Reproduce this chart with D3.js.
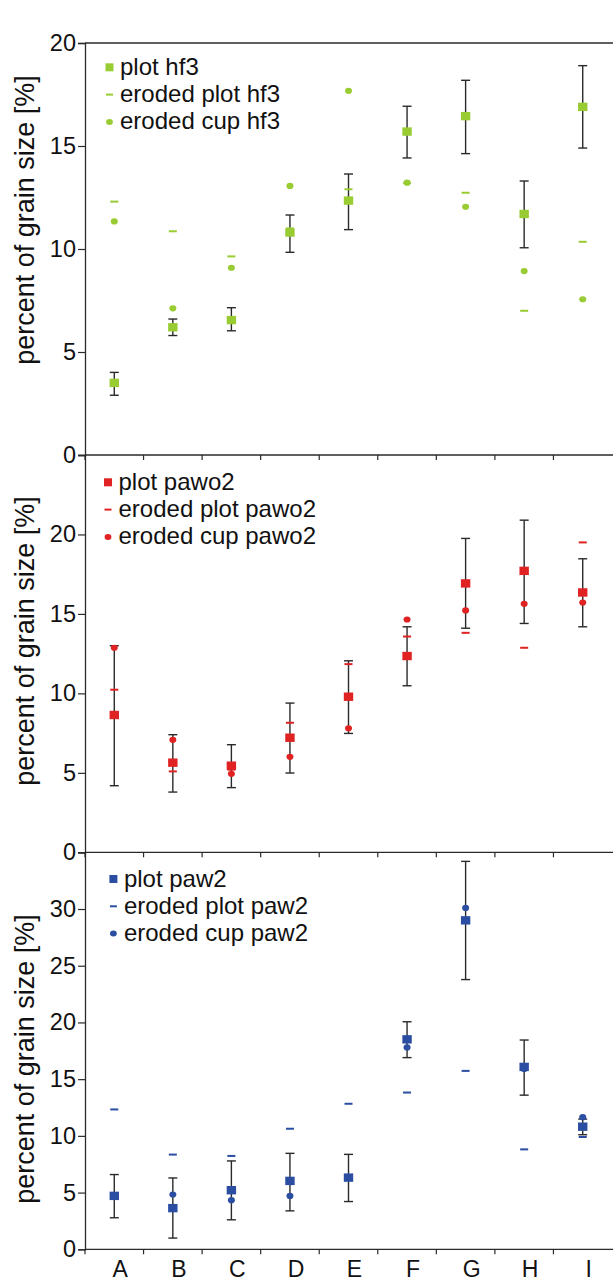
<!DOCTYPE html>
<html><head><meta charset="utf-8">
<script src="https://cdn.jsdelivr.net/npm/d3@7/dist/d3.min.js"></script>
<style>body{margin:0;background:#fff}svg{display:block}text{font-family:"Liberation Sans",Arial,sans-serif;fill:#111}</style>
</head><body>
<script>
const categories = ["A","B","C","D","E","F","G","H","I"];

// panel 1: hf3
const hf3Plot       = [3.5, 6.2, 6.55, 10.8, 12.35, 15.7, 16.45, 11.7, 16.9];
const hf3Low        = [2.9, 5.8, 6.03, 9.84, 10.94, 14.42, 14.63, 10.06, 14.9];
const hf3High       = [4.01, 6.6, 7.15, 11.65, 13.64, 16.93, 18.19, 13.3, 18.9];
const hf3ErodedPlot = [12.3, 10.86, 9.64, 11.0, 12.9, 13.2, 12.73, 7.0, 10.35];
const hf3ErodedCup  = [11.34, 7.12, 9.09, 13.06, 17.68, 13.22, 12.05, 8.93, 7.56];
const hf3Ticks = [0, 5, 10, 15, 20];

// panel 2: pawo2
const pawo2Plot       = [8.64, 5.64, 5.45, 7.21, 9.79, 12.35, 16.92, 17.71, 16.35];
const pawo2Low        = [4.19, 3.79, 4.07, 4.99, 7.48, 10.48, 14.1, 14.4, 14.19];
const pawo2High       = [13.0, 7.4, 6.77, 9.39, 12.05, 14.19, 19.75, 20.9, 18.47];
const pawo2ErodedPlot = [10.23, 5.09, 5.2, 8.15, 11.84, 13.58, 13.81, 12.87, 19.5];
const pawo2ErodedCup  = [12.87, 7.08, 4.94, 6.01, 7.8, 14.65, 15.22, 15.64, 15.72];
const pawo2Ticks = [0, 5, 10, 15, 20];

// panel 3: paw2
const paw2Plot       = [4.71, 3.63, 5.21, 6.03, 6.32, 18.51, 29.0, 16.08, 10.81];
const paw2Low        = [2.78, 0.99, 2.6, 3.39, 4.21, 16.9, 23.78, 13.59, 10.1];
const paw2High       = [6.59, 6.29, 7.79, 8.46, 8.37, 20.06, 34.2, 18.45, 11.48];
const paw2ErodedPlot = [12.33, 8.35, 8.23, 10.63, 12.83, 13.82, 15.73, 8.81, 9.9];
const paw2ErodedCup  = [4.8, 4.83, 4.33, 4.71, 6.3, 17.8, 30.1, 15.9, 11.65];
const paw2Ticks = [0, 5, 10, 15, 20, 25, 30];

const W = 613, H = 1281;
const svg = d3.select("body").append("svg").attr("width", W).attr("height", H);
const axisColor = "#2a2a2a";
const X0 = 85;
const x = d3.scaleBand().domain(categories).range([X0, 612]);
const FONT = '"Liberation Sans",Arial,sans-serif';

const panels = [
  {name:"hf3", color:"#99cc33", plot:hf3Plot, low:hf3Low, high:hf3High, ep:hf3ErodedPlot, ec:hf3ErodedCup,
   ticks:hf3Ticks, domain:[0,20], range:[455,43], labelY:220, legX:109.5, legY:67.3},
  {name:"pawo2", color:"#e02222", plot:pawo2Plot, low:pawo2Low, high:pawo2High, ep:pawo2ErodedPlot, ec:pawo2ErodedCup,
   ticks:pawo2Ticks, domain:[0,25], range:[852.3,455], labelY:641, legX:108, legY:482.3},
  {name:"paw2", color:"#2b4ea2", plot:paw2Plot, low:paw2Low, high:paw2High, ep:paw2ErodedPlot, ec:paw2ErodedCup,
   ticks:paw2Ticks, domain:[0,35], range:[1249.3,852.3], labelY:1059, legX:113.4, legY:879}
];

panels.forEach((p, pi) => {
  const y = d3.scaleLinear().domain(p.domain).range(p.range);
  const g = svg.append("g");
  const cx = d => x(d) + x.bandwidth()/2;

  if (pi === 0) {
    g.append("line").attr("x1", X0).attr("x2", W).attr("y1", y(p.domain[1])).attr("y2", y(p.domain[1]))
      .attr("stroke", axisColor).attr("stroke-width", 1.3);
  }
  const xAxis = d3.axisBottom(x).tickSize(0).tickFormat(pi === 2 ? (d => d) : "");
  const xa = g.append("g").attr("transform", `translate(0,${y(0)})`).call(xAxis);
  xa.select(".domain").remove();
  xa.selectAll("text").attr("dy", null).attr("y", 28).attr("dx", 6)
    .style("font-size", "23px").style("font-family", FONT).attr("fill", "#111");
  g.append("line").attr("x1", X0).attr("x2", W).attr("y1", y(0)).attr("y2", y(0))
    .attr("stroke", axisColor).attr("stroke-width", 1.3);
  g.selectAll(".bt").data(categories).join("line")
    .attr("x1", d => x(d)).attr("x2", d => x(d)).attr("y1", y(0)).attr("y2", y(0) + 5)
    .attr("stroke", axisColor).attr("stroke-width", 1.2);

  const yAxis = d3.axisLeft(y).tickValues(p.ticks).tickSize(7).tickPadding(2);
  const ya = g.append("g").attr("transform", `translate(${X0},0)`).call(yAxis);
  ya.select(".domain").attr("stroke", axisColor).attr("stroke-width", 1.3);
  ya.selectAll(".tick line").attr("stroke", axisColor).attr("stroke-width", 1.2);
  ya.selectAll(".tick text").style("font-size", "23.5px").style("font-family", FONT).attr("fill", "#111");

  g.append("text").attr("transform", `translate(34,${p.labelY}) rotate(-90)`)
    .attr("text-anchor", "middle").style("font-size", "27px").text("percent of grain size [%]");

  const eb = g.selectAll(".eb").data(categories).join("g");
  eb.append("line").attr("x1", cx).attr("x2", cx)
    .attr("y1", (d,i) => y(p.low[i])).attr("y2", (d,i) => y(p.high[i]))
    .attr("stroke", axisColor).attr("stroke-width", 1.4);
  eb.append("line").attr("x1", d => cx(d) - 4.5).attr("x2", d => cx(d) + 4.5)
    .attr("y1", (d,i) => y(p.low[i])).attr("y2", (d,i) => y(p.low[i]))
    .attr("stroke", axisColor).attr("stroke-width", 1.4);
  eb.append("line").attr("x1", d => cx(d) - 4.5).attr("x2", d => cx(d) + 4.5)
    .attr("y1", (d,i) => y(p.high[i])).attr("y2", (d,i) => y(p.high[i]))
    .attr("stroke", axisColor).attr("stroke-width", 1.4);

  g.selectAll(".ec").data(categories).join("ellipse")
    .attr("cx", cx).attr("cy", (d,i) => y(p.ec[i])).attr("rx", 3.5).attr("ry", 3.1).attr("fill", p.color);
  g.selectAll(".ep").data(categories).join("rect")
    .attr("x", d => cx(d) - 4).attr("y", (d,i) => y(p.ep[i]) - 1).attr("width", 8).attr("height", 2)
    .attr("fill", p.color);
  g.selectAll(".sq").data(categories).join("rect")
    .attr("x", d => cx(d) - 4.7).attr("y", (d,i) => y(p.plot[i]) - 4.2).attr("width", 9.4).attr("height", 8.4)
    .attr("fill", p.color);

  const lg = g.append("g").attr("transform", `translate(${p.legX},${p.legY})`);
  const rowH = 27.3;
  lg.append("rect").attr("x", -4).attr("y", -4).attr("width", 8).attr("height", 8).attr("fill", p.color);
  lg.append("rect").attr("x", -3.5).attr("y", rowH - 1).attr("width", 7).attr("height", 2).attr("fill", p.color);
  lg.append("ellipse").attr("cx", 0).attr("cy", 2*rowH).attr("rx", 3.4).attr("ry", 3).attr("fill", p.color);
  const labels = [`plot ${p.name}`, `eroded plot ${p.name}`, `eroded cup ${p.name}`];
  labels.forEach((t, i) => {
    lg.append("text").attr("x", 10.5).attr("y", i*rowH + 7.5).style("font-size", "24px").text(t);
  });
});
</script>
</body></html>
